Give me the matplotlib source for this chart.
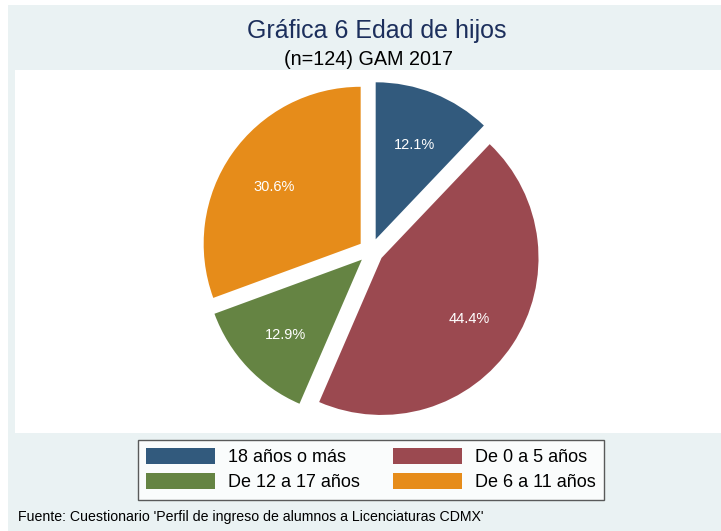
import matplotlib.pyplot as plt
from matplotlib.patches import Rectangle, Patch

plt.rcParams['font.family'] = ['Liberation Sans', 'DejaVu Sans']

# data
categories = ['18 años o más', 'De 0 a 5 años', 'De 12 a 17 años', 'De 6 a 11 años']
shares = [12.1, 44.4, 12.9, 30.6]
colors = ['#325a7d', '#9b4950', '#658443', '#e68c1a']

title = 'Gráfica 6 Edad de hijos'
subtitle = '(n=124) GAM 2017'
note = "Fuente: Cuestionario 'Perfil de ingreso de alumnos a Licenciaturas CDMX'"

W, H = 721, 531
fig = plt.figure(figsize=(W / 100, H / 100), dpi=100, facecolor='white')


def box(x0, y0, x1, y1, color):
    # rectangle given in image pixels (y down)
    fig.patches.append(Rectangle((x0 / W, 1 - y1 / H), (x1 - x0) / W, (y1 - y0) / H,
                                 transform=fig.transFigure, facecolor=color,
                                 edgecolor='none', zorder=-10))


box(8, 5, W, H, '#eaf2f3')   # graph region
box(15, 70, W, 433, 'white')  # plot region

ax = fig.add_axes([0, 0, 1, 1])
ax.set_facecolor('none')
# explode is in data units here (pixels), not a fraction of the radius
wedges, texts, autotexts = ax.pie(
    shares, colors=colors, startangle=90, counterclock=False,
    explode=[12.6] * len(shares), radius=157, center=(371, H - 251),
    autopct='%1.1f%%', pctdistance=0.67,
    textprops=dict(color='white', fontsize=10.5),
    wedgeprops=dict(linewidth=0))
# Stata sits the labels a touch lower
for t in autotexts:
    x, y = t.get_position()
    t.set_position((x, y - 3))
ax.set_xlim(0, W)
ax.set_ylim(0, H)
ax.set_aspect('equal')
ax.axis('off')

fig.text(377 / W, 1 - 38 / H, title, ha='center', va='baseline', fontsize=18, color='#1c2f5c')
fig.text(369 / W, 1 - 65 / H, subtitle, ha='center', va='baseline', fontsize=14.2, color='black')
fig.text(18 / W, 1 - 521 / H, note, ha='left', va='baseline', fontsize=10.2, color='black')

# legend fills column by column, so reorder to get the row layout
handles = [Patch(facecolor=c, edgecolor='none') for c in colors]
order = [0, 2, 1, 3]
leg = fig.legend([handles[i] for i in order], [categories[i] for i in order],
                 loc='center', bbox_to_anchor=(371 / W, 1 - 469.5 / H), ncol=2,
                 fontsize=13, frameon=True, fancybox=False, edgecolor='#333333',
                 handlelength=3.82, handleheight=1.0, handletextpad=0.72,
                 columnspacing=1.8, labelspacing=0.4, borderpad=0.45)
leg.get_frame().set_linewidth(1.0)

fig.savefig('out.png', dpi=100)
